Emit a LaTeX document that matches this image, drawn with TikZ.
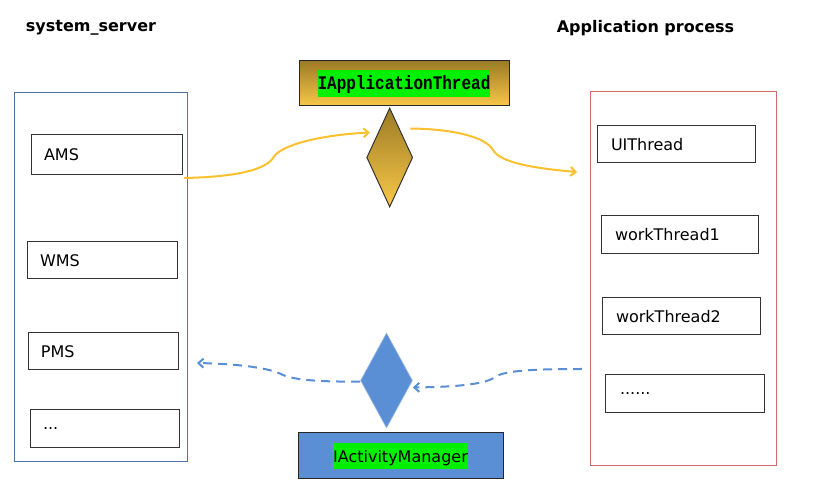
\documentclass[tikz,border=0pt]{standalone}
\usepackage{fontspec}
\setmainfont{DejaVu Sans}
\newfontfamily\codefont{Liberation Mono}
\usetikzlibrary{shapes.geometric,arrows.meta}
\definecolor{hlgreen}{HTML}{00F000}
\definecolor{ssblue}{HTML}{4F72A3}
\definecolor{appred}{HTML}{D26A6A}
\definecolor{golddark}{HTML}{9C7B26}
\definecolor{goldlight}{HTML}{F8C848}
\definecolor{ayellow}{HTML}{FBC02D}
\definecolor{binderblue}{HTML}{5A8FD5}
\newcommand{\hlgr}[3]{{\setlength{\fboxsep}{0pt}\colorbox{hlgreen}{\rule[-#2]{0pt}{\dimexpr#1+#2\relax}#3}}}
\begin{document}
\begin{tikzpicture}[x=1pt,y=-1pt,
  title/.style={font=\fontsize{16}{19}\selectfont\bfseries},
  procbox/.style={draw=black!80,line width=1pt,inner xsep=13pt,align=left,font=\fontsize{16}{19}\selectfont},
  yarrow/.style={draw=ayellow,line width=2pt,-{Straight Barb[length=5pt,width=9pt]}},
  barrow/.style={draw=binderblue,line width=2pt,dash pattern=on 9pt off 6pt,-{Straight Barb[length=5pt,width=9pt]}}]
\useasboundingbox (0,0) rectangle (815,486);

\node[title] (sstitle) at (91,28) {system\_server};
\node[title] (aptitle) at (645.5,28) {Application process};

\draw[ssblue,line width=1pt] (14,93) rectangle (187,462);
\draw[appred,line width=1pt] (590,92) rectangle (776,466);

\node[procbox,text width=125pt,minimum height=40pt] (ams) at (106.5,155) {AMS};
\node[procbox,text width=124pt,minimum height=37pt] (wms) at (102,260.5) {WMS};
\node[procbox,text width=124pt,minimum height=37pt] (pms) at (103,351.5) {PMS};
\node[procbox,text width=123pt,minimum height=38pt] (ssmore) at (104.5,429) {...};

\node[procbox,inner xsep=14pt,text width=130pt,minimum height=37pt] (uithread) at (676,144.5) {UIThread};
\node[procbox,inner xsep=14pt,text width=129pt,minimum height=38pt] (work1) at (679.5,235) {workThread1};
\node[procbox,inner xsep=14pt,text width=130pt,minimum height=37pt] (work2) at (681,316.5) {workThread2};
\node[procbox,inner xsep=15pt,text width=129pt,minimum height=38pt] (appmore) at (684.5,393.5) {......};

\node[draw=black!85,line width=1pt,top color=golddark,bottom color=goldlight,minimum width=210pt,minimum height=45pt,inner sep=0pt,font=\codefont\bfseries\fontsize{16}{19}\selectfont] (iat) at (404,83.5) {\hlgr{20pt}{7pt}{\scalebox{1}[1.2]{IApplicationThread}}\hspace{8pt}};
\node[diamond,draw=black!80,line width=1pt,top color=golddark,bottom color=goldlight,minimum width=46pt,minimum height=99pt,inner sep=0pt] (dtop) at (389.7,157.5) {};

\node[diamond,draw=binderblue!60,line width=0.6pt,fill=binderblue,minimum width=52pt,minimum height=95pt,inner sep=0pt] (dbot) at (386.5,380.5) {};
\node[draw=black!85,line width=1pt,fill=binderblue,minimum width=205pt,minimum height=46pt,inner sep=0pt,font=\fontsize{16}{19}\selectfont] (iam) at (400.5,456) {\hlgr{20pt}{6pt}{IActivityManager}\hspace{11pt}};

\coordinate (amsout) at (184,178);
\coordinate (appin) at (577,172);
\coordinate (appout) at (582,369);
\coordinate (ssin) at (197,363);

\draw[yarrow] (amsout) .. controls (235,177) and (265,170) .. (273,158) .. controls (280,145) and (320,135) .. ([xshift=-8pt]dtop.north west);
\draw[yarrow] ([xshift=9pt,yshift=4pt]dtop.north east) .. controls (450,129) and (485,136) .. (493,150) .. controls (500,162) and (530,168) .. (appin);

\draw[barrow] (appout) .. controls (540,369) and (505,370) .. (495,377) .. controls (485,385) and (450,387) .. ([yshift=-7pt]dbot.east);
\draw[barrow] ([yshift=-1pt]dbot.west) .. controls (320,382) and (295,380) .. (283,375) .. controls (270,368) and (240,364) .. (ssin);

\end{tikzpicture}
\end{document}
